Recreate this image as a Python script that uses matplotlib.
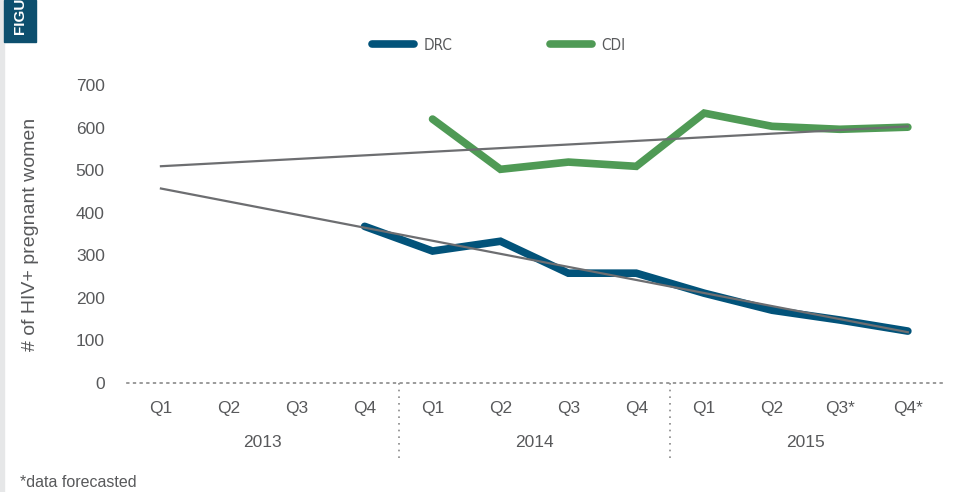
import numpy as np
import matplotlib.pyplot as plt
from matplotlib.patches import Rectangle

# quarters 2013 Q1 .. 2015 Q4
quarters = ['Q1', 'Q2', 'Q3', 'Q4', 'Q1', 'Q2', 'Q3', 'Q4', 'Q1', 'Q2', 'Q3*', 'Q4*']
years = ['2013', '2014', '2015']
x_all = np.arange(1, 13)

# DRC starts at 2013 Q4, CDI at 2014 Q1
drc_x = np.arange(4, 13)
drc = [368, 310, 333, 258, 258, 211, 171, 148, 122]
cdi_x = np.arange(5, 13)
cdi = [620, 502, 519, 509, 634, 603, 596, 601]

c_drc = '#02537a'
c_cdi = '#4f9a55'
c_trend = '#6d6e71'
c_text = '#58595b'

plt.rcParams['font.family'] = ['Liberation Sans', 'DejaVu Sans']

fig = plt.figure(figsize=(9.62, 4.92), dpi=100)
ax = fig.add_axes([0.132, 0.2215, 0.847, 0.6057])

# linear trendlines over the whole period
for xs, ys in [(drc_x, drc), (cdi_x, cdi)]:
    m, b = np.polyfit(xs, ys, 1)
    tx = np.array([1, 12])
    ax.plot(tx, m * tx + b, color=c_trend, lw=1.6, zorder=3)

ax.plot(drc_x, drc, color=c_drc, lw=5.5, solid_capstyle='round',
        solid_joinstyle='miter', label='DRC', zorder=2)
ax.plot(cdi_x, cdi, color=c_cdi, lw=5.5, solid_capstyle='round',
        solid_joinstyle='miter', label='CDI', zorder=2)

ax.set_xlim(0.5, 12.5)
ax.set_ylim(0, 700)
ax.set_yticks(range(0, 701, 100))
ax.tick_params(axis='y', length=0, pad=16, labelsize=12.5, labelcolor=c_text)
ax.set_xticks([])
for s in ['top', 'right', 'left']:
    ax.spines[s].set_visible(False)
ax.spines['bottom'].set_linestyle((0, (1, 3)))
ax.spines['bottom'].set_color('#8a8a8a')
ax.spines['bottom'].set_linewidth(1.2)

ax.set_ylabel('# of HIV+ pregnant women', fontsize=14, color=c_text)
ax.yaxis.set_label_coords(-0.108, 0.5)

trans = ax.get_xaxis_transform()
for xi, q in zip(x_all, quarters):
    ax.text(xi, -0.085, q, transform=trans, ha='center', va='center',
            fontsize=12.5, color=c_text)
for i, yr in enumerate(years):
    ax.text(2.5 + 4 * i, -0.2, yr, transform=trans, ha='center', va='center',
            fontsize=12.5, color=c_text)
for xs in [4.5, 8.5]:
    ax.plot([xs, xs], [0, -0.255], transform=trans, color='#8a8a8a',
            lw=1.2, ls=(0, (1, 3)), clip_on=False)

leg = ax.legend(loc='center', bbox_to_anchor=(0.456, 1.134), ncol=2,
                frameon=False, handlelength=2.75, columnspacing=6.4,
                handletextpad=0.6,
                prop={'family': 'DejaVu Sans', 'stretch': 'condensed', 'size': 11})
for t in leg.get_texts():
    t.set_color(c_text)

fig.text(0.021, 0.02, '*data forecasted', fontsize=11.5, color=c_text,
         ha='left', va='center')

# page decorations on the left edge
fig.patches.append(Rectangle((0, 0), 0.0045, 1, transform=fig.transFigure,
                             color='#e6e7e8', zorder=0))
fig.patches.append(Rectangle((0.0045, 0.915), 0.033, 0.085,
                             transform=fig.transFigure, color='#0d4f6e', zorder=1))
fig.text(0.021, 0.93, 'FIGURE', rotation=90, color='white', fontsize=11,
         fontweight='bold', ha='center', va='bottom', clip_on=True)

fig.savefig('out.png', dpi=100)
